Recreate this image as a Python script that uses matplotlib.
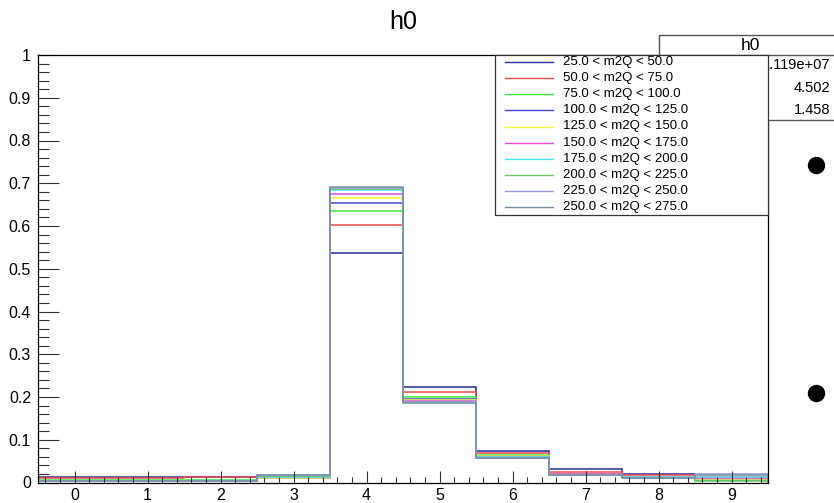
import numpy as np
import matplotlib
matplotlib.use("Agg")
import matplotlib.pyplot as plt
from matplotlib.lines import Line2D
from matplotlib.patches import Rectangle
from matplotlib.ticker import MultipleLocator, FuncFormatter

plt.rcParams['font.family'] = ['Liberation Sans', 'DejaVu Sans']

# bins of the histogram (integer centres 0..9)
edges = np.arange(-0.5, 10.0, 1.0)

labels = ["25.0 < m2Q < 50.0", "50.0 < m2Q < 75.0", "75.0 < m2Q < 100.0",
          "100.0 < m2Q < 125.0", "125.0 < m2Q < 150.0", "150.0 < m2Q < 175.0",
          "175.0 < m2Q < 200.0", "200.0 < m2Q < 225.0", "225.0 < m2Q < 250.0",
          "250.0 < m2Q < 275.0"]
colors = ["#2a2a9c", "#f04848", "#3cea3c", "#4a4ad8", "#f4f43c",
          "#ea4aea", "#4ae8e8", "#66c866", "#9a9ae0", "#7b8fa2"]

# normalised contents, one row per m2Q slice
h_25 = [0.0136, 0.0136, 0.0136, 0.0150, 0.538, 0.224, 0.073, 0.031, 0.0206, 0.006]
h_50 = [0.0100, 0.0100, 0.0120, 0.0136, 0.602, 0.211, 0.068, 0.025, 0.0170, 0.013]
h_75 = [0.0060, 0.0060, 0.0055, 0.0120, 0.634, 0.200, 0.064, 0.021, 0.0140, 0.005]
h_100 = [0.0040, 0.0040, 0.0040, 0.0105, 0.653, 0.195, 0.062, 0.020, 0.0130, 0.008]
h_125 = [0.0035, 0.0035, 0.0035, 0.0110, 0.665, 0.192, 0.061, 0.019, 0.0120, 0.009]
h_150 = [0.0030, 0.0030, 0.0030, 0.0120, 0.675, 0.190, 0.060, 0.019, 0.0125, 0.011]
h_175 = [0.0030, 0.0030, 0.0030, 0.0140, 0.684, 0.189, 0.059, 0.018, 0.0120, 0.014]
h_200 = [0.0030, 0.0030, 0.0030, 0.0160, 0.687, 0.188, 0.058, 0.018, 0.0115, 0.003]
h_225 = [0.0025, 0.0025, 0.0025, 0.0180, 0.690, 0.188, 0.058, 0.018, 0.0110, 0.020]
h_250 = [0.0025, 0.0025, 0.0025, 0.0170, 0.692, 0.187, 0.057, 0.018, 0.0105, 0.017]
hists = [h_25, h_50, h_75, h_100, h_125, h_150, h_175, h_200, h_225, h_250]

stat_name = "h0"
stat_values = ["1.119e+07", "4.502", "1.458"]

W, H = 834, 503
fig = plt.figure(figsize=(W / 100, H / 100), dpi=100)
ax = fig.add_axes([38 / W, 1 - 482.5 / H, (768 - 38) / W, (482.5 - 55) / H])

for h, c in zip(hists, colors):
    ax.stairs(h, edges, color=c, lw=1.1, baseline=0)

ax.set_xlim(-0.5, 9.5)
ax.set_ylim(0, 1.0)
ax.xaxis.set_major_locator(MultipleLocator(1))
ax.xaxis.set_minor_locator(MultipleLocator(0.2))
ax.yaxis.set_major_locator(MultipleLocator(0.1))
ax.yaxis.set_minor_locator(MultipleLocator(0.02))
ax.yaxis.set_major_formatter(FuncFormatter(lambda v, p: "%g" % round(v, 2)))
ax.tick_params(axis='both', which='both', direction='in', labelsize=11.5,
               color='#333333', width=0.8)
ax.tick_params(axis='x', which='major', length=9, pad=4)
ax.tick_params(axis='x', which='minor', length=4.5)
ax.tick_params(axis='y', which='major', length=15, pad=5)
ax.tick_params(axis='y', which='minor', length=8)
for s in ax.spines.values():
    s.set_linewidth(0.9)

fig.text(403 / W, 1 - 22 / H, "h0", ha='center', va='center', fontsize=18)

# stats box (partly covered by the legend)
fig.patches.append(Rectangle((659 / W, 1 - 120 / H), (W - 659) / W + 0.01, 85 / H,
                             transform=fig.transFigure, facecolor='white',
                             edgecolor='#555555', lw=1.0, zorder=5))
fig.add_artist(Line2D([659 / W, 1.01], [1 - 55 / H, 1 - 55 / H],
                      color='#555555', lw=1.0, zorder=6))
fig.text(750 / W, 1 - 45 / H, stat_name, ha='center', va='center',
         fontsize=12.5, zorder=7)
for i, v in enumerate(stat_values):
    y = 1 - (65 + 22.5 * i) / H
    fig.text(830 / W, y, v, ha='right', va='center', fontsize=10.5, zorder=7)

# legend box
fig.patches.append(Rectangle((495 / W, 1 - 215 / H), (768 - 495) / W, (215 - 54.5) / H,
                             transform=fig.transFigure, facecolor='white',
                             edgecolor='#333333', lw=0.9, zorder=10))
for i, (lab, c) in enumerate(zip(labels, colors)):
    y = 1 - (62.3 + 16.05 * i) / H
    fig.add_artist(Line2D([505 / W, 553 / W], [y, y], color=c, lw=1.0, zorder=11))
    fig.text(563 / W, y, lab, ha='left', va='center', fontsize=9.5, zorder=12)

# the two black markers at the right edge
for yy in (165, 393):
    fig.add_artist(Line2D([816 / W], [1 - yy / H], marker='o', markersize=11.5,
                          color='black', linestyle='none', zorder=3))

fig.savefig("out.png", dpi=100)
